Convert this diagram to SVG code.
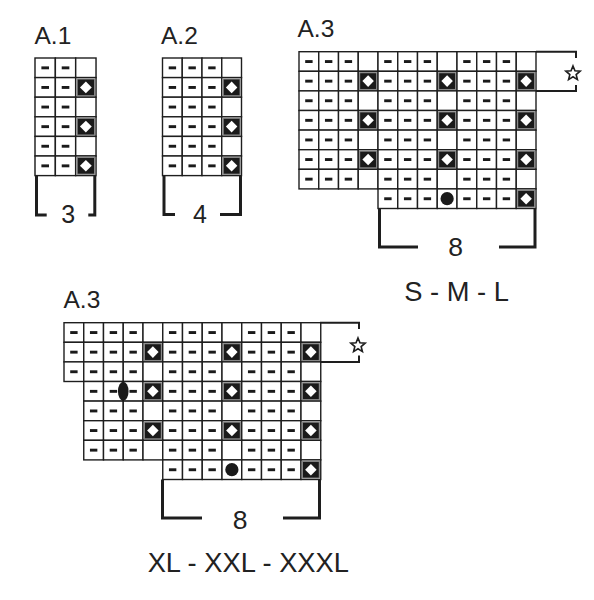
<svg xmlns="http://www.w3.org/2000/svg" xmlns:xlink="http://www.w3.org/1999/xlink" width="594" height="600" viewBox="0 0 594 600">
<style>
.c{fill:#fff;stroke:#1e1e1e;stroke-width:1.4}
.k{fill:#1a1a1a}
.t{font-family:"Liberation Sans",Arial,sans-serif;fill:#222}
.br{fill:none;stroke:#1e1e1e;stroke-width:3}
.sb{fill:none;stroke:#1e1e1e;stroke-width:2}
.st{fill:#fff;stroke:#1e1e1e;stroke-width:1.6;stroke-linejoin:miter}
</style>
<defs>
<g id="E"><rect class="c" width="19.75" height="19.6"/></g>
<g id="P"><rect class="c" width="19.75" height="19.6"/><rect class="k" x="6.2" y="8.4" width="7.4" height="2.9"/></g>
<g id="D"><rect class="c" width="19.75" height="19.6"/><rect x="1.4" y="1.4" width="16.95" height="16.8" fill="#1a1a1a" stroke="#888" stroke-width="1.1"/><path d="M9.875,4 L15.6,9.8 L9.875,15.6 L4.15,9.8Z" fill="#fff"/></g>
<g id="C"><rect class="c" width="19.75" height="19.6"/><circle cx="9.875" cy="9.8" r="6.6" class="k"/></g>
<g id="rowE"><use href="#P" x="0"/><use href="#P" x="19.75"/><use href="#P" x="39.5"/><use href="#E" x="59.25"/><use href="#P" x="79"/><use href="#P" x="98.75"/><use href="#P" x="118.5"/><use href="#E" x="138.25"/><use href="#P" x="158"/><use href="#P" x="177.75"/><use href="#P" x="197.5"/><use href="#E" x="217.25"/></g>
<g id="rowD"><use href="#P" x="0"/><use href="#P" x="19.75"/><use href="#P" x="39.5"/><use href="#D" x="59.25"/><use href="#P" x="79"/><use href="#P" x="98.75"/><use href="#P" x="118.5"/><use href="#D" x="138.25"/><use href="#P" x="158"/><use href="#P" x="177.75"/><use href="#P" x="197.5"/><use href="#D" x="217.25"/></g>
<g id="r3E"><use href="#P" x="0"/><use href="#P" x="19.75"/><use href="#E" x="39.5"/></g>
<g id="r3D"><use href="#P" x="0"/><use href="#P" x="19.75"/><use href="#D" x="39.5"/></g>
<g id="r4E"><use href="#P" x="0"/><use href="#P" x="19.75"/><use href="#P" x="39.5"/><use href="#E" x="59.25"/></g>
<g id="r4D"><use href="#P" x="0"/><use href="#P" x="19.75"/><use href="#P" x="39.5"/><use href="#D" x="59.25"/></g>
<path id="star" d="M0,-7.5 L1.94,-2.67 L7.13,-2.32 L3.14,1.02 L4.41,6.07 L0,3.3 L-4.41,6.07 L-3.14,1.02 L-7.13,-2.32 L-1.94,-2.67Z"/>
</defs>
<rect width="594" height="600" fill="#fff"/>

<g id="chartA1">
<text class="t" x="34.5" y="43.5" font-size="24.5">A.1</text>
<g transform="translate(35,58) scale(1.03,1)">
<use href="#r3E" y="0"/><use href="#r3D" y="19.6"/><use href="#r3E" y="39.2"/><use href="#r3D" y="58.8"/><use href="#r3E" y="78.4"/><use href="#r3D" y="98"/>
</g>
<path class="br" d="M36.5,176 V215 H46.7 M88.3,215 H94.8 V176"/>
<text class="t" x="68.3" y="222.8" font-size="25" text-anchor="middle">3</text>
</g>

<g id="chartA2">
<text class="t" x="161" y="43.5" font-size="24.5">A.2</text>
<g transform="translate(162.5,58)">
<use href="#r4E" y="0"/><use href="#r4D" y="19.6"/><use href="#r4E" y="39.2"/><use href="#r4D" y="58.8"/><use href="#r4E" y="78.4"/><use href="#r4D" y="98"/>
</g>
<path class="br" d="M164,176 V214.5 H175 M220,214.5 H240.5 V176"/>
<text class="t" x="200" y="222.8" font-size="25" text-anchor="middle">4</text>
</g>

<g id="chartA3-SML">
<text class="t" x="297.5" y="36.9" font-size="24.5">A.3</text>
<g transform="translate(299,51.7)">
<use href="#rowE" y="0"/><use href="#rowD" y="19.6"/><use href="#rowE" y="39.2"/><use href="#rowD" y="58.8"/><use href="#rowE" y="78.4"/><use href="#rowD" y="98"/><use href="#rowE" y="117.6"/>
<use href="#P" x="79" y="137.2"/><use href="#P" x="98.75" y="137.2"/><use href="#P" x="118.5" y="137.2"/><use href="#C" x="138.25" y="137.2"/><use href="#P" x="158" y="137.2"/><use href="#P" x="177.75" y="137.2"/><use href="#P" x="197.5" y="137.2"/><use href="#D" x="217.25" y="137.2"/>
</g>
<path class="sb" d="M536,51.7 H576 V58 M576,85 V91 H536"/>
<use href="#star" class="st" x="573" y="73.5"/>
<path class="br" d="M379.5,209 V247 H418 M499,247 H535 V209"/>
<text class="t" x="455.7" y="256.2" font-size="26.5" text-anchor="middle">8</text>
<text class="t" x="456.5" y="300.9" font-size="27.3" text-anchor="middle">S - M - L</text>
</g>

<g id="chartA3-XL">
<text class="t" x="63.5" y="307.9" font-size="24.5">A.3</text>
<g transform="translate(64,322.7)">
<use href="#P" x="0" y="0"/><use href="#rowE" x="19.75" y="0"/>
<use href="#P" x="0" y="19.6"/><use href="#rowD" x="19.75" y="19.6"/>
<use href="#P" x="0" y="39.2"/><use href="#rowE" x="19.75" y="39.2"/>
<use href="#rowD" x="19.75" y="58.8"/>
<use href="#rowE" x="19.75" y="78.4"/>
<use href="#rowD" x="19.75" y="98"/>
<use href="#rowE" x="19.75" y="117.6"/>
<use href="#P" x="98.75" y="137.2"/><use href="#P" x="118.5" y="137.2"/><use href="#P" x="138.25" y="137.2"/><use href="#C" x="158" y="137.2"/><use href="#P" x="177.75" y="137.2"/><use href="#P" x="197.5" y="137.2"/><use href="#P" x="217.25" y="137.2"/><use href="#D" x="237" y="137.2"/>
<ellipse cx="59.25" cy="68.6" rx="5.3" ry="9.5" class="k"/>
</g>
<path class="sb" d="M320,322.7 H359 V329 M359,355.5 V361.9 H320"/>
<use href="#star" class="st" x="358" y="345.5"/>
<path class="br" d="M162.5,479.5 V518 H202 M283,518 H319.5 V479.5"/>
<text class="t" x="240" y="528.5" font-size="26.5" text-anchor="middle">8</text>
<text class="t" x="248.3" y="571.9" font-size="27.3" text-anchor="middle">XL - XXL - XXXL</text>
</g>
</svg>
